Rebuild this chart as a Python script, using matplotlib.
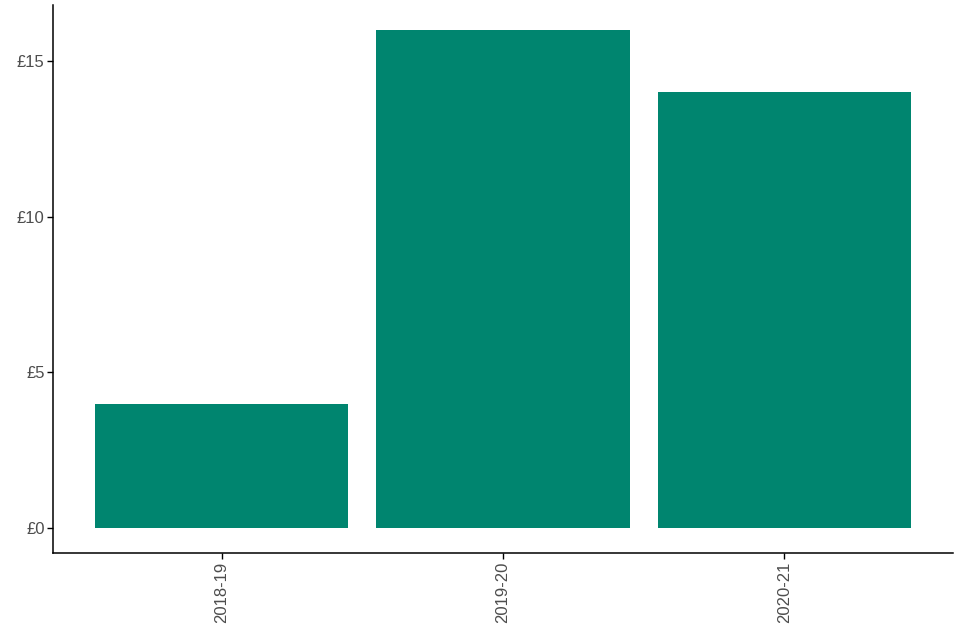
import matplotlib
matplotlib.use("Agg")
import matplotlib.pyplot as plt

years = ["2018-19", "2019-20", "2020-21"]
values = [4, 16, 14]

plt.rcParams['font.family'] = ['Liberation Sans', 'DejaVu Sans']

fig = plt.figure(figsize=(9.6, 6.4), dpi=100)
ax = fig.add_axes([53/960, 1 - 553/640, 900/960, 548/640])

x = list(range(1, len(years) + 1))
ax.bar(x, values, width=0.9, color="#00856F")

ax.set_xlim(0.4, 3.6)
ax.set_ylim(-0.8, 16.8)
ax.set_xticks(x)
ax.set_xticklabels(years, rotation=90)
ax.set_yticks([0, 5, 10, 15])
ax.set_yticklabels(["£0", "£5", "£10", "£15"])

for s in ["top", "right"]:
    ax.spines[s].set_visible(False)
for s in ["left", "bottom"]:
    ax.spines[s].set_linewidth(1.1)
ax.tick_params(axis="both", labelsize=12, colors="#4D4D4D", length=4, width=1, pad=2)
ax.tick_params(axis="both", color="black")

fig.savefig("out.png", dpi=100)
